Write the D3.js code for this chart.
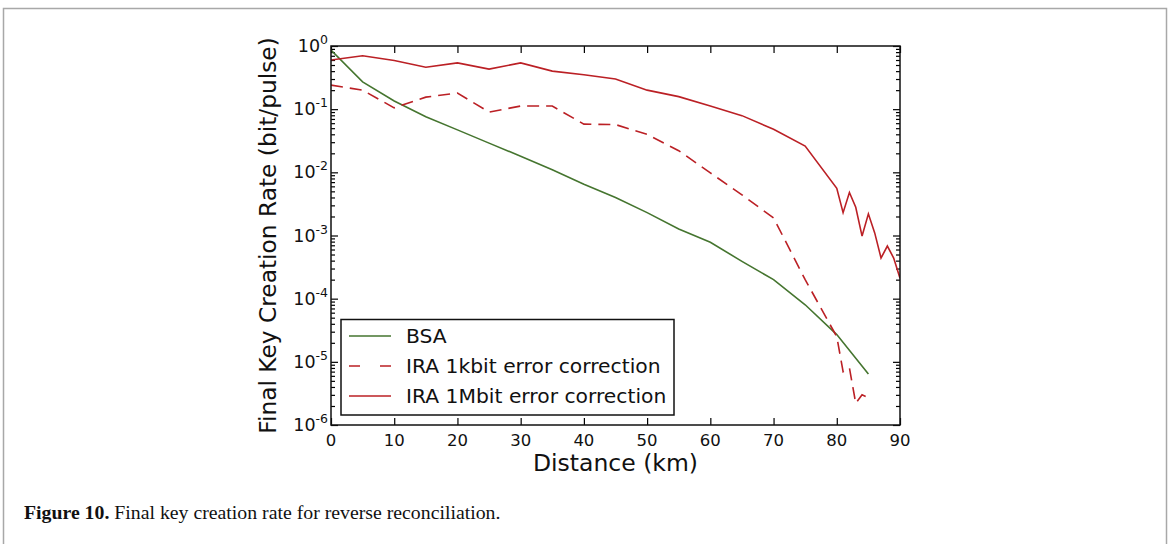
<!DOCTYPE html>
<html>
<head>
<meta charset="utf-8">
<script src="https://cdn.jsdelivr.net/npm/d3@7"></script>
<style>
  body { margin: 0; background: #fff; }
  svg { display: block; }
</style>
</head>
<body>
<div id="container"></div>
<script>
// distances (km) and final key rate (bit/pulse)
const distBSA = [0, 5, 10, 15, 20, 25, 30, 35, 40, 45, 50, 55, 60, 65, 70, 75, 80, 85];
const bsa = [0.86, 0.27, 0.135, 0.076, 0.047, 0.029, 0.018, 0.011, 0.0065, 0.004, 0.0023, 0.00127,
  0.00078, 0.00039, 0.0002, 0.00008, 0.000027, 0.0000064];

const dist1k = [0, 5, 10, 15, 20, 25, 30, 35, 40, 45, 50, 55, 60, 65, 70, 75, 80, 81, 82, 83, 84, 85];
const ira1k = [0.24, 0.2, 0.105, 0.155, 0.18, 0.09, 0.112, 0.112, 0.058, 0.057, 0.04, 0.022,
  0.0098, 0.0044, 0.0019, 0.0002, 0.000025, 0.000007, 0.000008, 0.0000022, 0.000003, 0.0000027];

const dist1M = [0, 5, 10, 15, 20, 25, 30, 35, 40, 45, 50, 55, 60, 65, 70, 75, 80, 81, 82, 83, 84, 85, 86, 87, 88, 89, 90];
const ira1M = [0.6, 0.7, 0.59, 0.46, 0.54, 0.43, 0.54, 0.40, 0.35, 0.30, 0.2, 0.158, 0.112, 0.079,
  0.048, 0.026, 0.0056, 0.0023, 0.0048, 0.0028, 0.00098, 0.0022, 0.0011, 0.00044, 0.00068, 0.00044, 0.00021];

const xTicks = [0, 10, 20, 30, 40, 50, 60, 70, 80, 90];
const yExps = [0, -1, -2, -3, -4, -5, -6];
const legendLabels = ["BSA", "IRA 1kbit error correction", "IRA 1Mbit error correction"];

const green = "#45752f";
const red = "#bb2025";

const svg = d3.select("#container").append("svg")
  .attr("width", 1170)
  .attr("height", 544);

// figure frame
svg.append("rect")
  .attr("x", 3.5).attr("y", 8.5)
  .attr("width", 1163).attr("height", 560)
  .attr("fill", "none")
  .attr("stroke", "#a8a8a8")
  .attr("stroke-width", 1.5);

const pLeft = 331, pRight = 900, pTop = 46, pBottom = 425;

const x = d3.scaleLinear().domain([0, 90]).range([pLeft, pRight]);
const y = d3.scaleLog().domain([1e-6, 1]).range([pBottom, pTop]);

const font = "DejaVu Sans, sans-serif";

// ticks (inward, all four sides)
const major = yExps.map(e => Math.pow(10, e));
const minor = y.ticks().filter(v => Math.abs(Math.log10(v) - Math.round(Math.log10(v))) > 1e-6);

function drawAxis(axis, tx, ty) {
  const g = svg.append("g")
    .attr("transform", `translate(${tx},${ty})`)
    .call(axis);
  g.select(".domain").remove();
  g.selectAll("line").attr("stroke", "#000").attr("stroke-width", 1.2);
  return g;
}

drawAxis(d3.axisBottom(x).tickValues(xTicks).tickSizeInner(-7).tickSizeOuter(0).tickFormat(""), 0, pBottom);
drawAxis(d3.axisTop(x).tickValues(xTicks).tickSizeInner(-7).tickSizeOuter(0).tickFormat(""), 0, pTop);
drawAxis(d3.axisLeft(y).tickValues(major).tickSizeInner(-7).tickSizeOuter(0).tickFormat(""), pLeft, 0);
drawAxis(d3.axisRight(y).tickValues(major).tickSizeInner(-7).tickSizeOuter(0).tickFormat(""), pRight, 0);
drawAxis(d3.axisLeft(y).tickValues(minor).tickSizeInner(-4).tickSizeOuter(0).tickFormat(""), pLeft, 0);
drawAxis(d3.axisRight(y).tickValues(minor).tickSizeInner(-4).tickSizeOuter(0).tickFormat(""), pRight, 0);

// x tick labels
svg.append("g").selectAll("text")
  .data(xTicks)
  .enter().append("text")
  .attr("x", d => x(d))
  .attr("y", pBottom + 21)
  .attr("text-anchor", "middle")
  .attr("font-family", font)
  .attr("font-size", 16.5)
  .attr("fill", "#111")
  .text(d => d);

// y tick labels 10^n
const yl = svg.append("g").selectAll("text")
  .data(yExps)
  .enter().append("text")
  .attr("x", pLeft - 3)
  .attr("y", d => y(Math.pow(10, d)) + 6)
  .attr("text-anchor", "end")
  .attr("font-family", font)
  .attr("font-size", 17.5)
  .attr("fill", "#111");
yl.append("tspan").text("10");
yl.append("tspan")
  .attr("font-size", 12.5)
  .attr("dy", -8)
  .text(d => d === 0 ? "0" : "-" + Math.abs(d));

// lines
const line = d3.line()
  .x(d => x(d[0]))
  .y(d => y(d[1]));

const series = [
  { xs: distBSA, ys: bsa, color: green, dash: null },
  { xs: dist1k, ys: ira1k, color: red, dash: "12,7" },
  { xs: dist1M, ys: ira1M, color: red, dash: null }
];

svg.append("defs").append("clipPath").attr("id", "plot")
  .append("rect")
  .attr("x", pLeft).attr("y", pTop)
  .attr("width", pRight - pLeft).attr("height", pBottom - pTop);

svg.append("g").attr("clip-path", "url(#plot)")
  .selectAll("path")
  .data(series)
  .enter().append("path")
  .attr("d", s => line(s.xs.map((v, i) => [v, s.ys[i]])))
  .attr("fill", "none")
  .attr("stroke", s => s.color)
  .attr("stroke-width", 1.6)
  .attr("stroke-dasharray", s => s.dash);

// plot frame
svg.append("rect")
  .attr("x", pLeft).attr("y", pTop)
  .attr("width", pRight - pLeft).attr("height", pBottom - pTop)
  .attr("fill", "none")
  .attr("stroke", "#111")
  .attr("stroke-width", 1.5);

// legend
const lg = svg.append("g");
lg.append("rect")
  .attr("x", 341).attr("y", 319.5)
  .attr("width", 333).attr("height", 95.5)
  .attr("fill", "#fff")
  .attr("stroke", "#111")
  .attr("stroke-width", 1.5);

const items = lg.selectAll(".item")
  .data(series)
  .enter().append("g")
  .attr("class", "item")
  .attr("transform", (d, i) => `translate(0,${336 + i * 30})`);

items.append("line")
  .attr("x1", 349).attr("x2", 391)
  .attr("y1", 0).attr("y2", 0)
  .attr("stroke", d => d.color)
  .attr("stroke-width", 1.6)
  .attr("stroke-dasharray", d => d.dash ? "11,20" : null);

items.append("text")
  .attr("x", 406)
  .attr("y", 7)
  .attr("font-family", font)
  .attr("font-size", 20.3)
  .attr("fill", "#111")
  .text((d, i) => legendLabels[i]);

// axis titles
svg.append("text")
  .attr("x", (pLeft + pRight) / 2)
  .attr("y", 471)
  .attr("text-anchor", "middle")
  .attr("font-family", font)
  .attr("font-size", 23.5)
  .attr("fill", "#111")
  .text("Distance (km)");

svg.append("text")
  .attr("transform", `translate(276,${(pTop + pBottom) / 2}) rotate(-90)`)
  .attr("text-anchor", "middle")
  .attr("font-family", font)
  .attr("font-size", 23.3)
  .attr("fill", "#111")
  .text("Final Key Creation Rate (bit/pulse)");

// caption
const cap = svg.append("text")
  .attr("x", 24)
  .attr("y", 519)
  .attr("font-family", "Liberation Serif, serif")
  .attr("font-size", 19.8)
  .attr("fill", "#111");
cap.append("tspan").attr("font-weight", "bold").text("Figure 10.");
cap.append("tspan").text(" Final key creation rate for reverse reconciliation.");
</script>
</body>
</html>
